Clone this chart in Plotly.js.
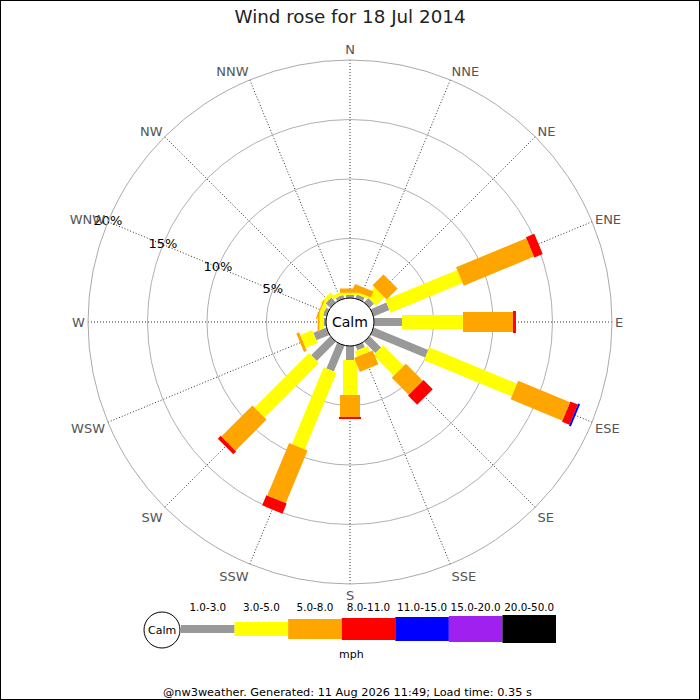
<!DOCTYPE html>
<html>
<head>
<meta charset="utf-8">
<script src="https://cdn.plot.ly/plotly-3.0.1.min.js"></script>
<style>html,body{margin:0;padding:0;background:#fff;}#chart{width:700px;height:700px;}</style>
</head>
<body>
<div id="chart"></div>
<script>
// ---- data (percent of time per direction and speed class) ----
const directions = ['N','NNE','NE','ENE','E','ESE','SE','SSE','S','SSW','SW','WSW','W','WNW','NW','NNW'];
const speedClasses = ['1.0-3.0','3.0-5.0','5.0-8.0','8.0-11.0','11.0-15.0','15.0-20.0','20.0-50.0'];
const classColors = ['#999999','#ffff00','#ffa500','#ff0000','#0000ff','#a020f0','#000000'];
const s1to3   = [0.25,0.35,0.5,1.43,2.35,4.96,1.34,0.42,1.18,2.35,2.27,1.18,0.2,0.3,0.55,0.3];
const s3to5   = [0.2,0.2,1.0,6.55,5.13,7.98,2.44,0.5,2.94,6.98,6.47,1.09,0.35,0.35,0.35,0.3];
const s5to8   = [0.35,0.55,1.3,6.39,4.2,4.71,2.02,1.26,1.85,4.79,3.7,0.25,0.15,0.1,0,0];
const s8to11  = [0,0,0,0.76,0.25,0.67,1.09,0,0.16,0.92,0.33,0,0,0,0,0];
const s11to15 = [0,0,0,0,0,0.17,0,0,0,0,0,0,0,0,0,0];
const s15to20 = [0,0,0,0,0,0,0,0,0,0,0,0,0,0,0,0];
const s20to50 = [0,0,0,0,0,0,0,0,0,0,0,0,0,0,0,0];
const radialTicks = [5,10,15,20];
const radialTickText = ['5%','10%','15%','20%'];
const title = 'Wind rose for 18 Jul 2014';
const unitLabel = 'mph';
const footer = '@nw3weather. Generated: 11 Aug 2026 11:49; Load time: 0.35 s';

// ---- styling ----
const FONT = 'DejaVu Sans, Verdana, sans-serif';
const barWidths = [8,14,20,22,24,26,28];
const series = [s1to3,s3to5,s5to8,s8to11,s11to15,s15to20,s20to50];
const step = 360/directions.length;
const angles = directions.map((d,i)=>i*step);

const traces = [];
const base = directions.map(()=>0);
series.forEach((vals,c)=>{
  const r=[], th=[];
  vals.forEach((v,i)=>{
    if(v>0){ r.push(base[i], base[i]+v, null); th.push(angles[i], angles[i], null); }
    base[i]+=v;
  });
  traces.push({type:'scatterpolar', mode:'lines', r:r, theta:th, connectgaps:false,
    line:{color:classColors[c], width:barWidths[c], simplify:false},
    hoverinfo:'skip', showlegend:false, subplot:'polar'});
});
// radial tick labels on WNW spoke
traces.push({type:'scatterpolar', mode:'text', r:radialTicks,
  theta:radialTicks.map(()=>angles[directions.indexOf('WNW')]),
  text:radialTickText, textposition:'middle center', cliponaxis:false,
  textfont:{family:FONT,size:13,color:'#000'}, hoverinfo:'skip', showlegend:false, subplot:'polar'});

// ---- legend on hidden cartesian axes ----
speedClasses.forEach((lab,c)=>{
  traces.push({type:'scatter', mode:'lines', x:[c,c+1], y:[0.5,0.5], xaxis:'x', yaxis:'y',
    line:{color:classColors[c], width:barWidths[c]}, hoverinfo:'skip', showlegend:false, cliponaxis:false});
});
traces.push({type:'scatter', mode:'text', x:speedClasses.map((l,c)=>c+0.5), y:speedClasses.map(()=>0.8),
  text:speedClasses, textfont:{family:FONT,size:10.4,color:'#000'}, xaxis:'x', yaxis:'y',
  hoverinfo:'skip', showlegend:false, cliponaxis:false});

const W=700,H=700, cx=350, cy=322, R=262, calmR=24;
const layout = {
  width:W, height:H, margin:{l:0,r:0,t:0,b:0},
  paper_bgcolor:'#fff', plot_bgcolor:'#fff', showlegend:false,
  font:{family:FONT},
  title:{text:title, font:{family:FONT,size:18.3,color:'#222'}, x:0.5, xanchor:'center', y:1-17/H, yanchor:'middle'},
  polar:{
    domain:{x:[(cx-R)/W,(cx+R)/W], y:[(H-cy-R)/H,(H-cy+R)/H]},
    hole:calmR/R, bgcolor:'#fff',
    radialaxis:{range:[0,20], tickvals:radialTicks, showticklabels:false, ticks:'',
      showline:false, gridcolor:'#b0b0b0', gridwidth:1},
    angularaxis:{type:'linear', thetaunit:'degrees', rotation:90, direction:'clockwise',
      tickmode:'array', tickvals:angles, ticktext:directions, ticks:'',
      showgrid:true, griddash:'1px,2px', gridcolor:'#333', gridwidth:1,
      showline:true, linecolor:'#aaa', linewidth:1,
      tickfont:{family:FONT,size:13,color:'#555'}}
  },
  xaxis:{domain:[181/W,556/W], range:[0,7], visible:false, fixedrange:true},
  yaxis:{domain:[(H-664)/H,(H-594)/H], range:[0,1], visible:false, fixedrange:true},
  shapes:[
    {type:'circle', xref:'paper', yref:'paper', x0:(cx-calmR)/W, x1:(cx+calmR)/W, y0:(H-cy-calmR)/H, y1:(H-cy+calmR)/H,
      line:{color:'#000',width:1}, fillcolor:'#fff', layer:'above'},
    {type:'circle', xref:'paper', yref:'paper', x0:144/W, x1:180/W, y0:(H-648)/H, y1:(H-612)/H,
      line:{color:'#000',width:1}, fillcolor:'#fff'},
    {type:'rect', xref:'paper', yref:'paper', x0:0, x1:1, y0:0, y1:1, line:{color:'#000',width:2}}
  ],
  annotations:[
    {xref:'paper', yref:'paper', x:cx/W, y:(H-cy)/H, text:'Calm', showarrow:false,
      font:{family:FONT,size:14,color:'#000'}, xanchor:'center', yanchor:'middle'},
    {xref:'paper', yref:'paper', x:162/W, y:(H-630)/H, text:'Calm', showarrow:false,
      font:{family:FONT,size:11,color:'#000'}, xanchor:'center', yanchor:'middle'},
    {xref:'paper', yref:'paper', x:351/W, y:(H-654)/H, text:unitLabel, showarrow:false,
      font:{family:FONT,size:11,color:'#000'}, xanchor:'center', yanchor:'middle'},
    {xref:'paper', yref:'paper', x:347/W, y:(H-692)/H, text:footer, showarrow:false,
      font:{family:FONT,size:11.3,color:'#000'}, xanchor:'center', yanchor:'middle'}
  ]
};
Plotly.newPlot('chart', traces, layout, {displayModeBar:false, staticPlot:true});
</script>
</body>
</html>
